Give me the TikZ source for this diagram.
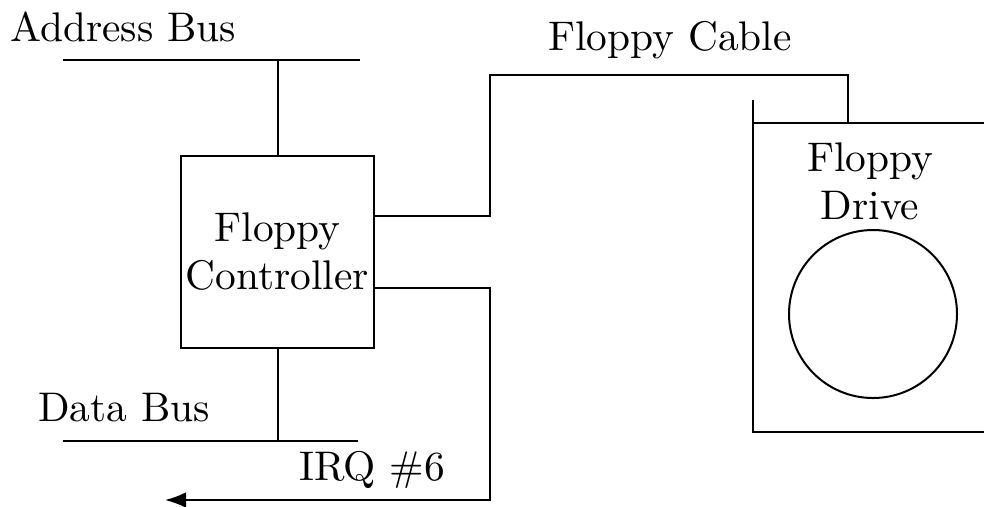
\documentclass[tikz,border=0pt]{standalone}
\usepackage{tikz}
\usetikzlibrary{arrows.meta,positioning}

\begin{document}
\begin{tikzpicture}[>=Latex, x=0.25pt, y=-0.25pt, line width=0.5pt,
  every node/.style={font=\fontsize{10.35}{12}\selectfont}]
\useasboundingbox (0,0) rectangle (984,506);

\node (addrlbl) at (123,27) {Address Bus};
\node (datalbl) at (124,408) {Data Bus};
\node (cablelbl) at (670,40) {Floppy Cable};
\node (irqlbl) at (372,470) {IRQ \#6};

\node[draw, align=center, inner xsep=0pt, minimum width=48.25pt, minimum height=48pt] (ctrl) at (277.5,252) {Floppy\\Controller};

\coordinate (ab1) at (63,60);
\coordinate (ab2) at (360,60);
\coordinate (db1) at (63,441);
\coordinate (db2) at (358,441);
\draw (ab1) -- (ab2);
\draw (db1) -- (db2);
\draw (ctrl.north) -- (ctrl.north |- ab1);
\draw (ctrl.south) -- (ctrl.south |- db1);

% floppy drive, cut off at the right
\coordinate (dtl) at (753,123);
\coordinate (dlift) at (753,100);
\coordinate (dbl) at (753,432);
\coordinate (dtr) at (990,123);
\coordinate (dbr) at (990,432);
\draw (dlift) -- (dbl) -- (dbr);
\draw (dtl) -- (dtr);
\node[align=center] (drivelbl) at (870,181) {Floppy\\Drive};
\node[draw, circle, minimum size=42pt] (disk) at (873,314) {};

\coordinate (dtop) at (848,123);
\coordinate (cbend) at (490,75);
\draw (ctrl.east |- 0,216) -| (cbend) -| (dtop);

\coordinate (irqbend) at (490,500);
\coordinate (irqend) at (165,500);
\draw[->] (ctrl.east |- 0,288) -| (irqbend) -- (irqend);
\end{tikzpicture}
\end{document}
